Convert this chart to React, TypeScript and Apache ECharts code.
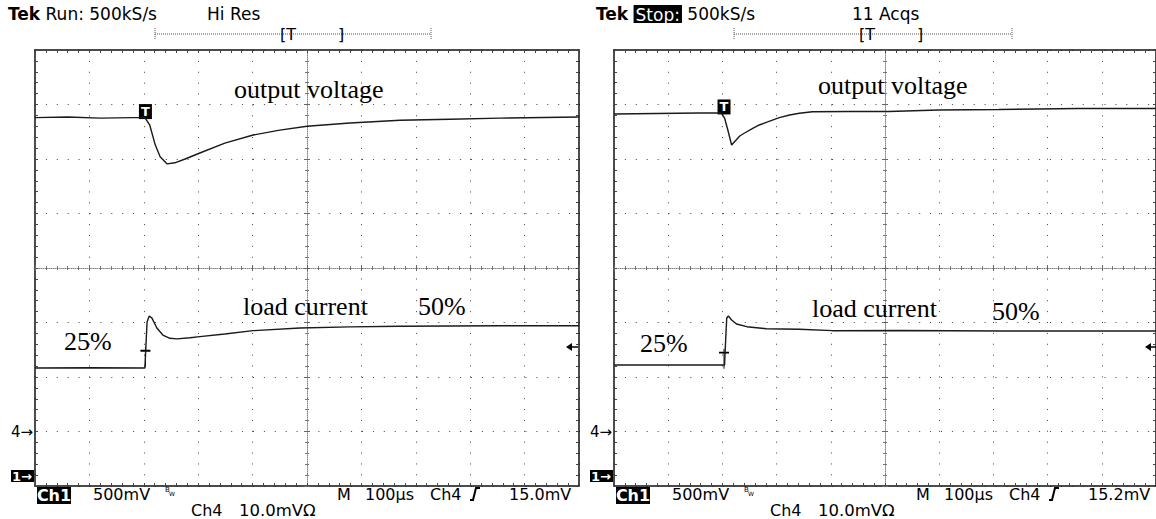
import React, { useEffect, useRef } from "react";
import * as echarts from "echarts";

// Horizontal axis: time in µs across 10 divisions (100 µs/div)
// Vertical axis: screen divisions (-4 … +4)

// Left capture (Run, Hi Res)
const leftVoltageTime = [0, 60, 120, 180, 202, 211, 221, 230, 243, 257, 276, 303, 349, 401, 450, 500, 579, 671, 763, 855, 1000];
const leftVoltageValue = [2.76, 2.77, 2.75, 2.76, 2.76, 2.62, 2.26, 2.04, 1.91, 1.93, 2.0, 2.11, 2.29, 2.44, 2.53, 2.6, 2.66, 2.71, 2.73, 2.75, 2.77];
const leftCurrentTime = [0, 100, 202, 204, 206, 210, 215, 224, 235, 248, 261, 285, 303, 349, 401, 487, 579, 671, 855, 1000];
const leftCurrentValue = [-1.835, -1.83, -1.835, -1.41, -0.99, -0.88, -0.92, -1.1, -1.23, -1.29, -1.3, -1.28, -1.26, -1.21, -1.15, -1.1, -1.08, -1.07, -1.06, -1.06];

// Right capture (Stop, 11 Acqs)
const rightVoltageTime = [0, 158, 198, 204, 210, 217, 222, 232, 241, 256, 268, 281, 305, 324, 342, 366, 434, 507, 599, 710, 857, 1000];
const rightVoltageValue = [2.826, 2.844, 2.844, 2.752, 2.532, 2.257, 2.312, 2.422, 2.477, 2.563, 2.624, 2.673, 2.758, 2.807, 2.839, 2.868, 2.872, 2.872, 2.899, 2.908, 2.927, 2.927];
const rightCurrentTime = [0, 204, 206, 208, 211, 217, 226, 245, 281, 342, 403, 526, 710, 1000];
const rightCurrentValue = [-1.78, -1.78, -1.321, -0.917, -0.881, -0.954, -1.028, -1.077, -1.114, -1.125, -1.15, -1.147, -1.156, -1.156];

const triggerTime = [203, 203];
const triggerVoltageLevel = [2.76, 2.845];
const triggerCurrentMark = [-1.628, -1.664];

const headerLeft = ["Tek", "Run:", "500kS/s", "Hi Res"];
const headerRight = ["Tek", "Stop:", "500kS/s", "11 Acqs"];
const footerLabels = ["Ch1", "500mV", "M", "100µs", "Ch4", "Ch4", "10.0mVΩ"];
const triggerLevels = ["15.0mV", "15.2mV"];
const traceLabels = ["output voltage", "load current", "50%", "25%"];

const SANS = "DejaVu Sans";
const SERIF = "Liberation Serif";
const TOP = 50;
const FW = 544;
const FH = 436;

function buildOption() {
  const panels = [
    { left: 35, vt: leftVoltageTime, vv: leftVoltageValue, ct: leftCurrentTime, cv: leftCurrentValue },
    { left: 614, vt: rightVoltageTime, vv: rightVoltageValue, ct: rightCurrentTime, cv: rightCurrentValue },
  ];
  const grid: any[] = [];
  const xAxis: any[] = [];
  const yAxis: any[] = [];
  const series: any[] = [];

  const frameLine = { show: true, onZero: false, lineStyle: { color: "#111", width: 1.5 } };
  const frameTick = { show: true, inside: true, length: 3, lineStyle: { color: "#444", width: 1 } };
  const frameMinor = { show: true, splitNumber: 5, length: 3, lineStyle: { color: "#444", width: 1 } };
  const dottedX = { show: true, lineStyle: { color: "#444", width: 1, type: [1, 9.88] } };
  const dottedY = { show: true, lineStyle: { color: "#444", width: 1, type: [1, 9.9] } };
  const noLabel = { show: false };

  panels.forEach((p, i) => {
    const g0 = grid.length;
    for (let k = 0; k < 3; k++) grid.push({ left: p.left, top: TOP, width: FW, height: FH, show: false });
    const xb = xAxis.length;
    xAxis.push({ gridIndex: g0, type: "value", min: 0, max: 1000, interval: 100, position: "bottom", axisLine: frameLine, axisTick: frameTick, minorTick: frameMinor, axisLabel: noLabel, splitLine: dottedX });
    xAxis.push({ gridIndex: g0, type: "value", min: 0, max: 1000, interval: 100, position: "top", axisLine: frameLine, axisTick: frameTick, minorTick: frameMinor, axisLabel: noLabel, splitLine: { show: false } });
    const yl = yAxis.length;
    yAxis.push({ gridIndex: g0, type: "value", min: -4, max: 4, interval: 1, position: "left", axisLine: frameLine, axisTick: frameTick, minorTick: frameMinor, axisLabel: noLabel, splitLine: dottedY });
    yAxis.push({ gridIndex: g0, type: "value", min: -4, max: 4, interval: 1, position: "right", axisLine: frameLine, axisTick: frameTick, minorTick: frameMinor, axisLabel: noLabel, splitLine: { show: false } });
    // centre graticule crosshair (ticks on both sides)
    [true, false].forEach((inside, k) => {
      const g = g0 + 1 + k;
      const line = { show: k === 0, onZero: true, lineStyle: { color: "#888", width: 1, type: [1, 1] } };
      const tick = { show: true, inside, length: 3, lineStyle: { color: "#666", width: 1 } };
      const minor = { show: true, splitNumber: 5, length: 2, lineStyle: { color: "#777", width: 1 } };
      xAxis.push({ gridIndex: g, type: "value", min: -500, max: 500, interval: 100, axisLine: line, axisTick: tick, minorTick: minor, axisLabel: noLabel, splitLine: { show: false } });
      yAxis.push({ gridIndex: g, type: "value", min: -4, max: 4, interval: 1, axisLine: line, axisTick: tick, minorTick: minor, axisLabel: noLabel, splitLine: { show: false } });
    });

    const lineStyle = { color: "#1a1a1a", width: 1.4 };
    series.push({
      type: "line", xAxisIndex: xb, yAxisIndex: yl, showSymbol: false, silent: true, z: 5,
      data: p.vt.map((t, k) => [t, p.vv[k]]), lineStyle,
      markPoint: {
        silent: true, symbol: "rect", symbolSize: [13, 15], symbolOffset: [0, -6],
        itemStyle: { color: "#000" },
        label: { show: true, position: "inside", formatter: "T", color: "#fff", fontSize: 13, fontWeight: "bold", fontFamily: SANS },
        data: [{ coord: [triggerTime[i], triggerVoltageLevel[i]] }],
      },
    });
    series.push({
      type: "line", xAxisIndex: xb, yAxisIndex: yl, showSymbol: false, silent: true, z: 5,
      data: p.ct.map((t, k) => [t, p.cv[k]]), lineStyle,
      markPoint: {
        silent: true, symbol: "path://M0,4L10,4M5,0L5,20", symbolSize: [10, 20], symbolKeepAspect: false,
        itemStyle: { color: "none", borderColor: "#000", borderWidth: 1.3 },
        label: { show: false },
        data: [{ coord: [triggerTime[i], triggerCurrentMark[i]] }],
      },
    });
  });

  const text = (x: number, y: number, t: string, size: number, family: string, extra: any = {}) => ({
    type: "text", x, y, z: 100, silent: true,
    style: { text: t, fontSize: size, fontFamily: family, fill: "#000", verticalAlign: "middle", align: "left", ...extra },
  });
  const rect = (x: number, y: number, w: number, h: number) => ({
    type: "rect", z: 99, silent: true, shape: { x, y, width: w, height: h }, style: { fill: "#000" },
  });
  const dots = (x1: number, y1: number, x2: number, y2: number) => ({
    type: "line", z: 99, silent: true, shape: { x1, y1, x2, y2 }, style: { stroke: "#555", lineWidth: 1, lineDash: [1, 1] },
  });

  const graphic: any[] = [];
  graphic.push(text(8, 14, `{b|${headerLeft[0]}} ${headerLeft[1]} ${headerLeft[2]}`, 17, SANS, { rich: { b: { fontWeight: "bold", fontSize: 17, fontFamily: SANS } } }));
  graphic.push(text(207, 14, headerLeft[3], 17, SANS));
  graphic.push(text(596, 14, `{b|${headerRight[0]}} {inv|${headerRight[1]}} ${headerRight[2]}`, 17, SANS, {
    rich: { b: { fontWeight: "bold", fontSize: 17, fontFamily: SANS }, inv: { fill: "#fff", backgroundColor: "#000", fontSize: 17, fontFamily: SANS, padding: [1, 2, 0, 2] } },
  }));
  graphic.push(text(852, 14, headerRight[3], 17, SANS));

  [[155, 431, 280, 338], [734, 1012, 859, 917]].forEach(([a, b, t1, t2]) => {
    graphic.push(dots(a, 34, b, 34));
    graphic.push(dots(a, 28, a, 40));
    graphic.push(dots(b, 28, b, 40));
    graphic.push(text(t1, 34, "[T", 16, SANS));
    graphic.push(text(t2, 34, "]", 16, SANS));
  });

  [[35, 0], [614, 1]].forEach(([L, i]) => {
    graphic.push(rect(L + 2, 487, 34, 17));
    graphic.push(text(L + 19, 495.5, footerLabels[0], 16, SANS, { fill: "#fff", align: "center", fontWeight: "bold" }));
    graphic.push(text(L + 58, 494, footerLabels[1], 16, SANS));
    graphic.push(text(L + 130, 490, "B", 7, SANS));
    graphic.push(text(L + 134, 493, "W", 6, SANS));
    graphic.push(text(L + 302, 494, footerLabels[2], 16, SANS));
    graphic.push(text(L + 330, 494, footerLabels[3], 16, SANS));
    graphic.push(text(L + 395, 494, footerLabels[4], 16, SANS));
    graphic.push({ type: "polyline", z: 100, silent: true, shape: { points: [[L + 435, 500], [L + 438, 500], [L + 441, 488], [L + 445, 488]] }, style: { stroke: "#000", lineWidth: 2, fill: null } });
    graphic.push(text(L + 474, 494, triggerLevels[i], 16, SANS));
    graphic.push(text(L + 156, 510, footerLabels[5], 16, SANS));
    graphic.push(text(L + 204, 510, footerLabels[6], 16.5, SANS));
    graphic.push(text(L - 24, 432, "4→", 15, SANS));
    graphic.push(rect(L - 24, 470, 23, 12));
    graphic.push(text(L - 23, 476, "1→", 13, SANS, { fill: "#fff", fontWeight: "bold" }));
    const ax = L + 531;
    graphic.push({ type: "polygon", z: 100, silent: true, shape: { points: [[ax, 347], [ax + 6, 343], [ax + 6, 351]] }, style: { fill: "#000" } });
    graphic.push({ type: "line", z: 100, silent: true, shape: { x1: ax + 5, y1: 347, x2: ax + 12, y2: 347 }, style: { stroke: "#000", lineWidth: 1.5 } });
  });

  const ann: [number, number, string][] = [
    [234, 89, traceLabels[0]], [243, 306, traceLabels[1]], [418, 306, traceLabels[2]], [64, 341, traceLabels[3]],
    [818, 85, traceLabels[0]], [812, 308, traceLabels[1]], [992, 311, traceLabels[2]], [640, 343, traceLabels[3]],
  ];
  ann.forEach(([x, y, t]) => graphic.push(text(x, y, t, 26, SERIF)));

  return { animation: false, backgroundColor: "#fff", grid, xAxis, yAxis, series, graphic };
}

export default function App() {
  const ref = useRef<HTMLDivElement>(null);
  useEffect(() => {
    if (!ref.current) return;
    const chart = echarts.init(ref.current, undefined, { renderer: "svg" });
    chart.setOption(buildOption() as any);
    return () => chart.dispose();
  }, []);
  return (
    <div
      ref={ref}
      style={{ position: "absolute", left: 0, top: 0, width: 1156, height: 519, background: "#fff" }}
    />
  );
}
